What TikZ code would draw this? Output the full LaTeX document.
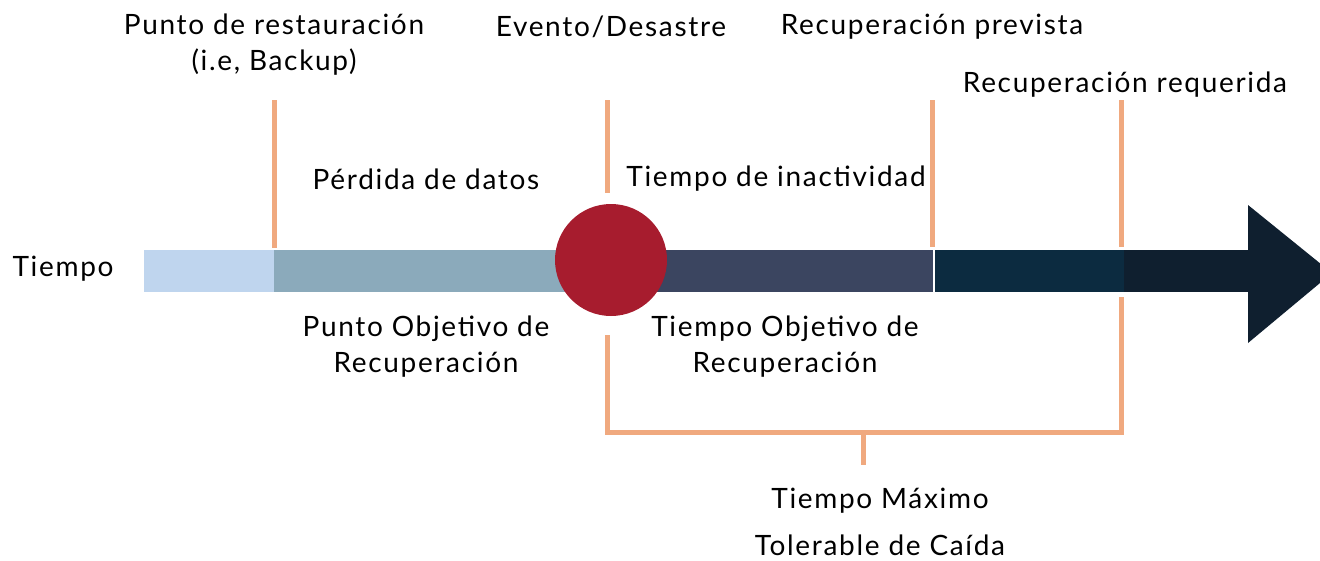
\documentclass[tikz,border=0pt]{standalone}
\usepackage{fontspec}
\setmainfont{Lato}[LetterSpace=6]
\definecolor{lblue}{HTML}{BFD5EE}
\definecolor{gblue}{HTML}{8BAABB}
\definecolor{slate}{HTML}{3B4560}
\definecolor{navy}{HTML}{0C2B40}
\definecolor{dnavy}{HTML}{0F1F2F}
\definecolor{dred}{HTML}{A71C2E}
\definecolor{orng}{HTML}{F0A97F}
\tikzset{
  lbl/.style={font=\fontsize{28}{36}\selectfont, text=black, align=center, inner sep=0pt},
  mark line/.style={draw=orng, line width=5pt}
}
\begin{document}
\begin{tikzpicture}[x=1pt,y=-1pt]
\useasboundingbox (0,0) rectangle (1320,560);
% bar segments
\fill[lblue] (144,250) rectangle (274,292);
\fill[gblue] (274,250) rectangle (590,292);
\fill[slate] (630,250) rectangle (933,292);
\fill[navy] (935,250) rectangle (1124,292);
\fill[dnavy] (1124,250) rectangle (1250,292);
\fill[dnavy] (1248,250) -- (1248,205) -- (1332,273) -- (1248,343) -- (1248,292) -- cycle;
% event circle
\node[circle, fill=dred, minimum size=112pt, inner sep=0pt] (ev) at (611,260) {};
% marker coordinates
\coordinate (b1) at (274,100); \coordinate (b2) at (274,248);
\coordinate (e1) at (607,100); \coordinate (e2) at (607,193);
\coordinate (e3) at (607,335); \coordinate (e4) at (607,432);
\coordinate (p1) at (932,100); \coordinate (p2) at (932,247);
\coordinate (r1) at (1121,100); \coordinate (r2) at (1121,247);
\coordinate (r3) at (1121,297); \coordinate (r4) at (1121,432);
\coordinate (t1) at (863,432); \coordinate (t2) at (863,465);
\draw[mark line] (b1) -- (b2);
\draw[mark line] (e1) -- (e2);
\draw[mark line] (p1) -- (p2);
\draw[mark line] (r1) -- (r2);
\draw[mark line] (e3) -- (e4) -- (r4) -- (r3);
\draw[mark line] (t1) -- (t2);
% labels
\node[lbl] (rp) at (274,45) {Punto de restauración\\(i.e, Backup)};
\node[lbl] (evl) at (611,27) {Evento/Desastre};
\node[lbl] (prev) at (932,27) {Recuperación prevista};
\node[lbl] (req) at (1125,85) {Recuperación requerida};
\node[lbl] (pd) at (426,179) {Pérdida de datos};
\node[lbl] (ti) at (776,179) {Tiempo de inactividad};
\node[lbl] (tiempo) at (63,269) {Tiempo};
\node[lbl] (rpo) at (426,347) {Punto Objetivo de\\Recuperación};
\node[lbl] (rto) at (785,347) {Tiempo Objetivo de\\Recuperación};
\node[lbl, font=\fontsize{28}{47}\selectfont] (mtd) at (880,522) {Tiempo Máximo\\Tolerable de Caída};
\end{tikzpicture}
\end{document}
